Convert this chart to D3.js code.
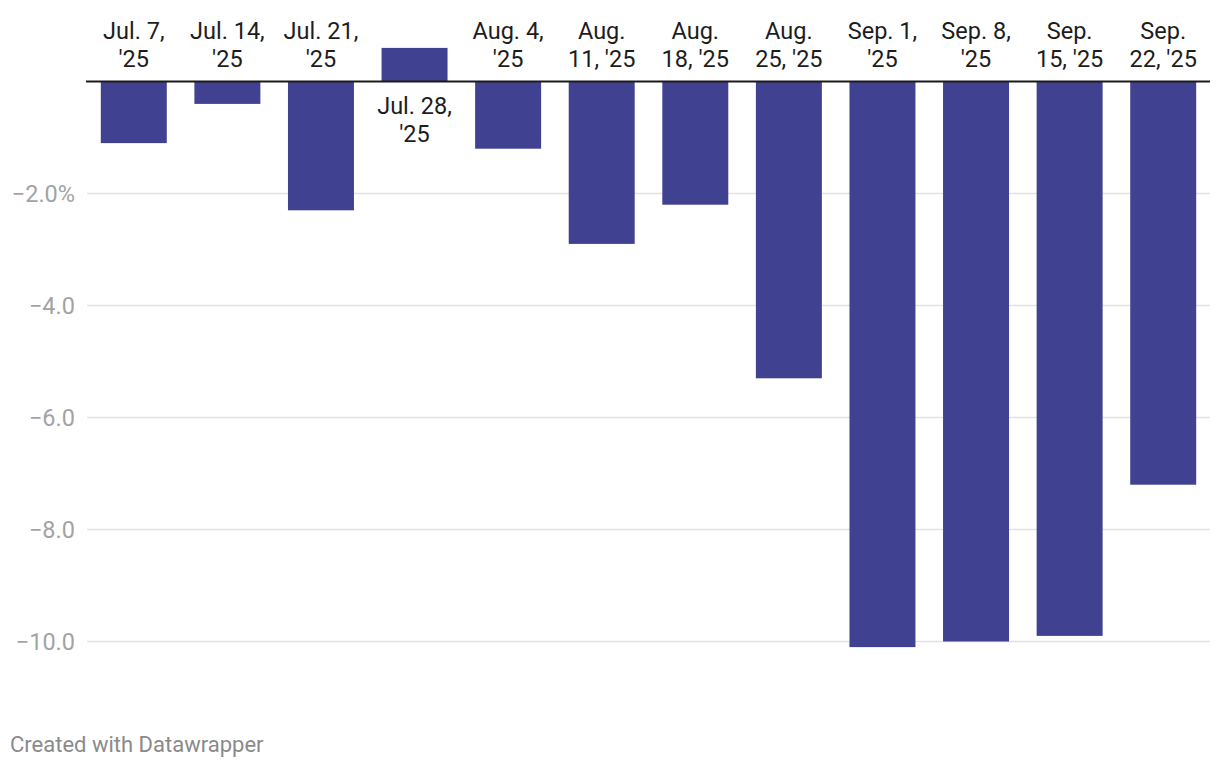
<!DOCTYPE html>
<html>
<head>
<meta charset="utf-8">
<script src="https://cdn.jsdelivr.net/npm/d3@7"></script>
<style>
  body { margin: 0; background: #fff; font-family: Roboto, sans-serif; }
</style>
</head>
<body>
<div id="root"></div>
<script>
const weeks = ['Jul. 7,|\'25', 'Jul. 14,|\'25', 'Jul. 21,|\'25', 'Jul. 28,|\'25', 'Aug. 4,|\'25', 'Aug.|11, \'25',
  'Aug.|18, \'25', 'Aug.|25, \'25', 'Sep. 1,|\'25', 'Sep. 8,|\'25', 'Sep.|15, \'25', 'Sep.|22, \'25'];
const changes = [-1.1, -0.4, -2.3, 0.6, -1.2, -2.9, -2.2, -5.3, -10.1, -10.0, -9.9, -7.2];
const yTicks = [-2, -4, -6, -8, -10];

const width = 1220;
const height = 768;

const svg = d3.select('#root').append('svg')
  .attr('width', width)
  .attr('height', height)
  .style('display', 'block');

const x = d3.scaleBand()
  .domain(d3.range(weeks.length))
  .range([87, 1210])
  .paddingInner(0.295)
  .paddingOuter(0.1475);

const y = d3.scaleLinear()
  .domain([-10, 0])
  .range([641.5, 81.5]);

// gridlines + tick labels
const grid = svg.append('g');
grid.selectAll('line')
  .data(yTicks)
  .enter()
  .append('line')
  .attr('x1', 87)
  .attr('x2', 1210)
  .attr('y1', d => y(d))
  .attr('y2', d => y(d))
  .attr('stroke', '#e3e3e3')
  .attr('stroke-width', 1.5);

grid.selectAll('text')
  .data(yTicks)
  .enter()
  .append('text')
  .attr('x', 75)
  .attr('y', d => y(d) + 8)
  .attr('text-anchor', 'end')
  .attr('fill', '#a3a3a3')
  .style('font-size', '23.5px')
  .text((d, i) => '\u2212' + d3.format('.1f')(-d) + (i === 0 ? '%' : ''));

svg.selectAll('rect.bar')
  .data(changes)
  .enter()
  .append('rect')
  .attr('class', 'bar')
  .attr('x', (d, i) => x(i))
  .attr('y', d => y(Math.max(0, d)))
  .attr('width', x.bandwidth())
  .attr('height', d => Math.abs(y(d) - y(0)))
  .attr('fill', '#404190');

// zero line
svg.append('line')
  .attr('x1', 86)
  .attr('x2', 1210)
  .attr('y1', y(0))
  .attr('y2', y(0))
  .attr('stroke', '#1a1a1a')
  .attr('stroke-width', 2);

// category labels: above the axis for negative bars, below for positive
const labels = svg.selectAll('text.label')
  .data(weeks)
  .enter()
  .append('text')
  .attr('class', 'label')
  .attr('text-anchor', 'middle')
  .attr('fill', '#1d1d1d')
  .style('font-size', '23.5px');

labels.each(function (d, i) {
  const lines = d.split('|');
  const cx = x(i) + x.bandwidth() / 2;
  const first = changes[i] < 0 ? y(0) - 43 : y(0) + 32;
  d3.select(this).selectAll('tspan')
    .data(lines)
    .enter()
    .append('tspan')
    .attr('x', cx)
    .attr('y', (l, j) => first + j * 28)
    .text(l => l);
});

svg.append('text')
  .attr('x', 10)
  .attr('y', 752)
  .attr('fill', '#8a8a8a')
  .style('font-size', '22px')
  .text('Created with Datawrapper');
</script>
</body>
</html>
